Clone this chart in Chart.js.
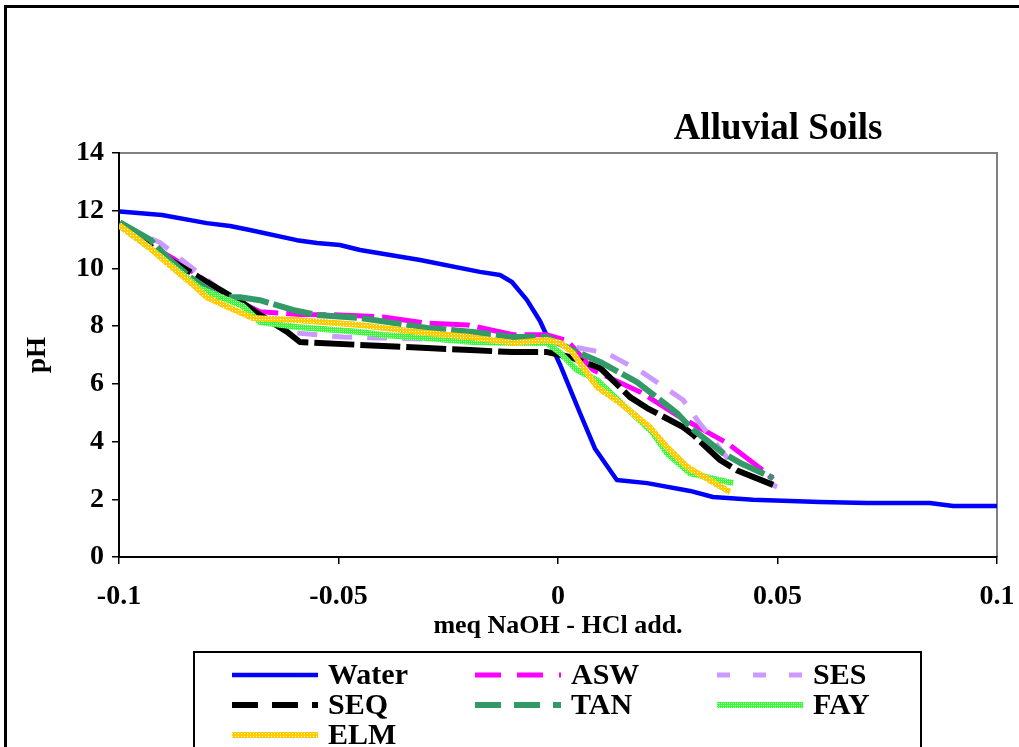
<!DOCTYPE html>
<html><head><meta charset="utf-8">
<script src="https://cdn.jsdelivr.net/npm/chart.js@4/dist/chart.umd.min.js"></script>
<style>html,body{margin:0;padding:0;background:#fff;overflow:hidden}canvas{display:block}</style>
</head><body>
<canvas id="c" width="1019" height="747" style="width:1019px;height:747px"></canvas>
<script>
// ---- data (x = meq NaOH - HCl added, y = pH) ----
const titleText = 'Alluvial Soils';
const xAxisTitle = 'meq NaOH - HCl add.';
const yAxisTitle = 'pH';
const xTickLabels = ['-0.1', '-0.05', '0', '0.05', '0.1'];
const seriesNames = ['Water', 'ASW', 'SES', 'SEQ', 'TAN', 'FAY', 'ELM'];

const waterX = [-0.0998,-0.0902,-0.0800,-0.0747,-0.0702,-0.0595,-0.0549,-0.0497,-0.0451,-0.0314,-0.0178,-0.0132,-0.0105,-0.0071,-0.0041,0.0004,0.0050,0.0084,0.0134,0.0203,0.0301,0.0353,0.0444,0.0597,0.0704,0.0847,0.0900,0.1000];
const waterY = [11.97,11.85,11.57,11.47,11.33,10.98,10.88,10.81,10.64,10.29,9.88,9.77,9.53,8.91,8.18,6.69,4.99,3.76,2.67,2.56,2.29,2.08,1.98,1.91,1.87,1.87,1.77,1.77];

const aswX = [-0.1,-0.0929,-0.0877,-0.0815,-0.0747,-0.0679,-0.0588,-0.0497,-0.0399,-0.0298,-0.0205,-0.0102,-0.0025,0.0021,0.0080,0.0187,0.0278,0.0385,0.0467,0.0490];
const aswY = [11.5,10.8,10.35,9.7,9.0,8.5,8.4,8.39,8.32,8.1,8.04,7.7,7.7,7.5,6.48,5.72,4.85,3.95,3.0,2.7];

const sesX = [-0.1,-0.0907,-0.0822,-0.0718,-0.0595,-0.0490,-0.0399,-0.0298,-0.0200,-0.0102,-0.0025,0.0027,0.0111,0.0194,0.0285,0.0317,0.0408,0.0499];
const sesY = [11.5,10.9,9.88,8.66,7.76,7.62,7.59,7.55,7.5,7.45,7.45,7.3,7.07,6.38,5.44,4.75,3.0,2.43];

const seqX = [-0.1,-0.0884,-0.0815,-0.0718,-0.0679,-0.0617,-0.0588,-0.0451,-0.0298,-0.0200,-0.0102,-0.0025,0.0027,0.0096,0.0164,0.0203,0.0285,0.0308,0.0369,0.0408,0.0490];
const seqY = [11.5,10.3,9.67,8.8,8.39,7.8,7.45,7.35,7.24,7.17,7.1,7.1,6.93,6.55,5.54,5.16,4.5,4.23,3.36,3.0,2.5];

const tanX = [-0.0998,-0.0929,-0.0884,-0.0838,-0.0770,-0.0724,-0.0679,-0.0604,-0.0549,-0.0451,-0.0298,-0.0194,-0.0102,-0.0025,0.0034,0.0096,0.0180,0.0271,0.0301,0.0376,0.0415,0.0490];
const tanY = [11.6,11.0,10.3,9.7,9.0,9.0,8.9,8.56,8.39,8.28,7.94,7.8,7.62,7.62,7.17,6.76,6.06,4.99,4.5,3.6,3.26,2.74];

const fayX = [-0.1,-0.0929,-0.0815,-0.0718,-0.0679,-0.0595,-0.0451,-0.0399,-0.0298,-0.0194,-0.0102,-0.0025,0.0005,0.0043,0.0089,0.0216,0.0248,0.0301,0.0399];
const fayY = [11.5,10.7,9.3,8.7,8.14,7.97,7.8,7.69,7.59,7.45,7.42,7.42,7.07,6.48,6.13,4.3,3.6,2.9,2.56];

const elmX = [-0.1,-0.0929,-0.0884,-0.0831,-0.0800,-0.0747,-0.0695,-0.0595,-0.0451,-0.0399,-0.0298,-0.0200,-0.0102,-0.0025,0.0005,0.0034,0.0089,0.0141,0.0209,0.0248,0.0294,0.0392];
const elmY = [11.5,10.7,10.1,9.43,9.0,8.63,8.28,8.21,8.04,7.94,7.76,7.62,7.42,7.52,7.42,7.07,5.89,5.34,4.5,3.81,3.12,2.25];

const yTickMin = 0, yTickMax = 14, yTickStep = 2;

// ---- helpers ----
const SERIF = "'Liberation Serif', 'Times New Roman', serif";
function pts(xs, ys) { return xs.map((x, i) => ({x: x, y: ys[i]})); }
function makePattern(base, dot, size, dots) {
  const c = document.createElement('canvas');
  c.width = size; c.height = size;
  const g = c.getContext('2d');
  g.fillStyle = base; g.fillRect(0, 0, size, size);
  g.fillStyle = dot;
  dots.forEach(d => g.fillRect(d[0], d[1], 1, 1));
  return g.createPattern(c, 'repeat');
}
const ctx = document.getElementById('c').getContext('2d');
const elmPattern = makePattern('#FFCC00', '#FFFFFF', 3, [[1,1]]);
const fayPattern = makePattern('#33FF33', '#CCFFCC', 2, [[1,1]]);

const styles = [
  {color: '#0000FF', width: 4.5, dash: []},
  {color: '#FF00FF', width: 5, dash: [40, 8]},
  {color: '#CC99FF', width: 5, dash: [20, 15]},
  {color: '#000000', width: 6, dash: [40, 6]},
  {color: '#339966', width: 6, dash: [40, 5]},
  {color: fayPattern, width: 6, dash: []},
  {color: elmPattern, width: 6, dash: []}
];
const seriesData = [pts(waterX, waterY), pts(aswX, aswY), pts(sesX, sesY), pts(seqX, seqY), pts(tanX, tanY), pts(fayX, fayY), pts(elmX, elmY)];

const datasets = seriesNames.map((name, i) => ({
  label: name,
  data: seriesData[i],
  borderColor: styles[i].color,
  backgroundColor: styles[i].color,
  borderWidth: styles[i].width,
  borderDash: styles[i].dash,
  borderCapStyle: 'butt',
  borderJoinStyle: 'round',
  pointRadius: 0,
  tension: 0,
  fill: false,
  order: seriesNames.length - i
}));

const framePlugin = {
  id: 'frame',
  beforeDraw(chart) {
    const c = chart.ctx;
    c.save();
    c.fillStyle = '#fff';
    c.fillRect(0, 0, chart.width, chart.height);
    c.strokeStyle = '#000';
    c.lineWidth = 3;
    c.strokeRect(5.5, 6.5, chart.width + 50, chart.height + 50);
    const a = chart.chartArea;
    c.strokeStyle = '#808080';
    c.lineWidth = 2;
    c.beginPath();
    c.moveTo(a.left, a.top);
    c.lineTo(a.right, a.top);
    c.lineTo(a.right, a.bottom);
    c.stroke();
    c.restore();
  },
  afterDraw(chart) {
    const c = chart.ctx;
    c.save();
    // title
    c.fillStyle = '#000';
    c.font = 'bold 37px ' + SERIF;
    c.textAlign = 'center';
    c.textBaseline = 'alphabetic';
    c.fillText(titleText, 778, 139);
    // legend
    c.strokeStyle = '#000';
    c.lineWidth = 2;
    c.strokeRect(194, 652, 727, 200);
    const cols = [232, 475, 717];
    const rows = [675, 705, 735];
    c.font = 'bold 30px ' + SERIF;
    c.textAlign = 'left';
    c.textBaseline = 'middle';
    chart.data.datasets.forEach((ds, i) => {
      const x = cols[i % 3], y = rows[Math.floor(i / 3)];
      c.save();
      c.strokeStyle = ds.borderColor;
      c.lineWidth = ds.borderWidth;
      c.setLineDash(ds.borderDash.length ? [ds.borderDash[0] * 0.65, ds.borderDash[1] + 8] : []);
      c.lineCap = 'butt';
      c.beginPath();
      c.moveTo(x, y);
      c.lineTo(x + 86, y);
      c.stroke();
      c.restore();
      c.fillStyle = '#000';
      c.fillText(ds.label, x + 96, y + 1);
    });
    c.restore();
  }
};

new Chart(ctx, {
  type: 'line',
  data: {datasets: datasets},
  plugins: [framePlugin],
  options: {
    responsive: false,
    animation: false,
    events: [],
    layout: {padding: {top: 153, right: 22, left: 0, bottom: 100}},
    plugins: {legend: {display: false}, tooltip: {enabled: false}, title: {display: false}},
    scales: {
      x: {
        type: 'linear', min: -0.1, max: 0.1,
        afterFit(s) { s.height = 90; s.paddingLeft = 0; s.paddingRight = 0; },
        border: {display: true, color: '#000', width: 2},
        grid: {display: true, drawOnChartArea: false, drawTicks: true, tickLength: 7, color: '#000', lineWidth: 1.5},
        ticks: {stepSize: 0.05, maxRotation: 0, autoSkip: false, padding: 16, color: '#000',
          font: {family: SERIF, size: 28, weight: 'bold'},
          callback: (v, i) => xTickLabels[i]},
        title: {display: true, text: xAxisTitle, color: '#000', font: {family: SERIF, size: 26, weight: 'bold'}, padding: {top: 0, bottom: 5}}
      },
      y: {
        min: yTickMin, max: yTickMax,
        afterFit(s) { s.width = 119; s.paddingTop = 0; s.paddingBottom = 0; },
        border: {display: true, color: '#000', width: 2},
        grid: {display: true, drawOnChartArea: false, drawTicks: true, tickLength: 7, color: '#000', lineWidth: 1.5},
        ticks: {stepSize: yTickStep, padding: 8, color: '#000', font: {family: SERIF, size: 28, weight: 'bold'}},
        title: {display: true, text: yAxisTitle, color: '#000', font: {family: SERIF, size: 27, weight: 'bold'}, padding: {top: 22, bottom: 0}}
      }
    }
  }
});
</script>
</body></html>
